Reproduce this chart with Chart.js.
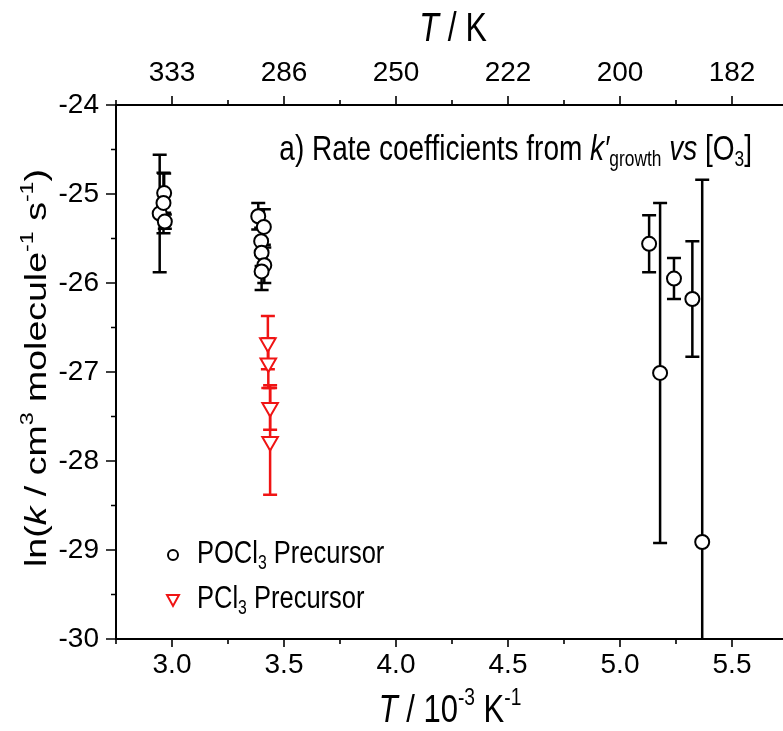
<!DOCTYPE html>
<html>
<head>
<meta charset="utf-8">
<script src="https://cdn.jsdelivr.net/npm/chart.js@4.4.1/dist/chart.umd.min.js"></script>
<style>
  html, body { margin: 0; padding: 0; background: #fff; overflow: hidden; }
  #wrap { width: 800px; height: 731px; }
</style>
</head>
<body>
<div id="wrap"><canvas id="chart" width="800" height="731"></canvas></div>
<script>
// axis ticks
const xTicks = [3.0, 3.5, 4.0, 4.5, 5.0, 5.5];
const xMinor = [2.75, 3.25, 3.75, 4.25, 4.75, 5.25, 5.75];
const topTickLabels = ["333", "286", "250", "222", "200", "182"];
const yTicks = [-24, -25, -26, -27, -28, -29, -30];
const yMinor = [-24.5, -25.5, -26.5, -27.5, -28.5, -29.5];

// POCl3 precursor: 1000/T, ln k, error
const poclX = [2.945, 2.965, 2.962, 2.968, 3.385, 3.41, 3.398, 3.400, 3.412, 3.400, 5.130, 5.179, 5.241, 5.323, 5.367];
const poclY = [-25.22, -24.99, -25.10, -25.31, -25.25, -25.37, -25.53, -25.66, -25.80, -25.87, -25.56, -27.01, -25.95, -26.18, -28.91];
const poclErr = [0.66, 0.22, 0.34, 0.08, 0.15, 0.20, 0.15, 0.15, 0.20, 0.21, 0.32, 1.91, 0.23, 0.65, 4.07];

// PCl3 precursor
const pclX = [3.428, 3.430, 3.438, 3.438];
const pclY = [-26.67, -26.90, -27.40, -27.78];
const pclErr = [0.30, 0.28, 0.25, 0.60];

const RED = "#f01414";
const FONT = "'Liberation Sans', Arial, sans-serif";
const STRETCH = 1.25;

function toPoints(xs, ys) {
  return xs.map((x, i) => ({ x: x, y: ys[i] }));
}

// draw a run of text pieces: {t, it, sub, sup}
function richWidth(ctx, parts, size) {
  let w = 0;
  parts.forEach(p => {
    const s = (p.sub || p.sup) ? size * 0.62 : size;
    ctx.font = (p.it ? "italic " : "") + s + "px " + FONT;
    w += ctx.measureText(p.t).width;
  });
  return w;
}

function drawRich(ctx, parts, size, x, y, align, angle, color) {
  ctx.save();
  ctx.translate(x, y);
  if (angle) ctx.rotate(angle);
  if (angle) ctx.scale(STRETCH, 1); else ctx.scale(1, STRETCH);
  const w = richWidth(ctx, parts, size);
  let cx = align === "center" ? -w / 2 : align === "right" ? -w : 0;
  ctx.fillStyle = color || "#000";
  ctx.textBaseline = "middle";
  ctx.textAlign = "left";
  parts.forEach(p => {
    const small = p.sub || p.sup;
    const s = small ? size * 0.62 : size;
    ctx.font = (p.it ? "italic " : "") + s + "px " + FONT;
    let dy = 0;
    if (p.sub) dy = size * 0.3;
    if (p.sup) dy = -size * 0.33;
    ctx.fillText(p.t, cx, dy);
    cx += ctx.measureText(p.t).width;
  });
  ctx.restore();
}

const errorBars = {
  id: "errorBars",
  beforeDatasetsDraw(chart) {
    const { ctx, chartArea, scales } = chart;
    ctx.save();
    ctx.beginPath();
    ctx.rect(chartArea.left, chartArea.top, chartArea.right - chartArea.left, chartArea.bottom - chartArea.top);
    ctx.clip();
    chart.data.datasets.forEach(ds => {
      ctx.strokeStyle = ds.borderColor;
      ctx.lineWidth = 2.5;
      ds.data.forEach((pt, i) => {
        const e = ds.err[i];
        const px = scales.x.getPixelForValue(pt.x);
        const y1 = scales.y.getPixelForValue(pt.y + e);
        const y2 = scales.y.getPixelForValue(pt.y - e);
        ctx.beginPath();
        ctx.moveTo(px, y1); ctx.lineTo(px, y2);
        ctx.moveTo(px - 7, y1); ctx.lineTo(px + 7, y1);
        ctx.moveTo(px - 7, y2); ctx.lineTo(px + 7, y2);
        ctx.stroke();
      });
    });
    ctx.restore();
  }
};

const frameAndText = {
  id: "frameAndText",
  afterDraw(chart) {
    const { ctx, chartArea: a, scales } = chart;
    ctx.save();
    ctx.strokeStyle = "#000";
    ctx.lineWidth = 2;
    ctx.strokeRect(a.left, a.top, a.right - a.left, a.bottom - a.top);

    ctx.beginPath();
    ctx.lineWidth = 1.6;
    xTicks.forEach(v => {
      const px = scales.x.getPixelForValue(v);
      ctx.moveTo(px, a.bottom); ctx.lineTo(px, a.bottom + 8);
      ctx.moveTo(px, a.top); ctx.lineTo(px, a.top - 9);
    });
    xMinor.forEach(v => {
      const px = scales.x.getPixelForValue(v);
      ctx.moveTo(px, a.bottom); ctx.lineTo(px, a.bottom + 5);
      ctx.moveTo(px, a.top); ctx.lineTo(px, a.top - 5);
    });
    yTicks.forEach(v => {
      const py = scales.y.getPixelForValue(v);
      ctx.moveTo(a.left, py); ctx.lineTo(a.left - 10, py);
    });
    yMinor.forEach(v => {
      const py = scales.y.getPixelForValue(v);
      ctx.moveTo(a.left, py); ctx.lineTo(a.left - 5, py);
    });
    ctx.stroke();
    ctx.restore();

    const cx = (a.left + a.right) / 2;
    drawRich(ctx, [{ t: "T", it: true }, { t: " / K" }], 32, cx + 1, 30, "center");
    drawRich(ctx, [{ t: "T", it: true }, { t: " / 10" }, { t: "-3", sup: true }, { t: " K" }, { t: "-1", sup: true }],
      31, cx - 2, 711, "center");
    drawRich(ctx, [{ t: "ln(" }, { t: "k", it: true }, { t: " / cm" }, { t: "3", sup: true }, { t: " molecule" },
      { t: "-1", sup: true }, { t: " s" }, { t: "-1", sup: true }, { t: ")" }],
      30, 38, (a.top + a.bottom) / 2 - 4, "center", -Math.PI / 2);
    drawRich(ctx, [{ t: "a) Rate coefficients from " }, { t: "k\u2032", it: true }, { t: "growth", sub: true },
      { t: " " }, { t: "vs", it: true }, { t: " [O" }, { t: "3", sub: true }, { t: "]" }],
      28, 752, 150, "right");

    // legend
    ctx.save();
    ctx.lineWidth = 2;
    ctx.strokeStyle = "#000";
    ctx.beginPath();
    ctx.arc(173, 555, 5, 0, Math.PI * 2);
    ctx.stroke();
    ctx.strokeStyle = RED;
    ctx.beginPath();
    ctx.moveTo(167, 595); ctx.lineTo(179, 595); ctx.lineTo(173, 606); ctx.closePath();
    ctx.stroke();
    ctx.restore();
    drawRich(ctx, [{ t: "POCl" }, { t: "3", sub: true }, { t: " Precursor" }], 25.5, 197, 554, "left");
    drawRich(ctx, [{ t: "PCl" }, { t: "3", sub: true }, { t: " Precursor" }], 25.5, 197, 599, "left");
  }
};

const tickFont = { family: FONT, size: 28 };

new Chart(document.getElementById("chart"), {
  type: "scatter",
  data: {
    datasets: [
      {
        label: "POCl3 Precursor",
        data: toPoints(poclX, poclY),
        err: poclErr,
        borderColor: "#000",
        backgroundColor: "#fff",
        pointStyle: "circle",
        pointRadius: 7,
        pointBorderWidth: 2
      },
      {
        label: "PCl3 Precursor",
        data: toPoints(pclX, pclY),
        err: pclErr,
        borderColor: RED,
        backgroundColor: "#fff",
        pointStyle: "triangle",
        rotation: 180,
        pointRadius: 9,
        pointBorderWidth: 2
      }
    ]
  },
  options: {
    responsive: false,
    animation: false,
    layout: { padding: { right: 12 } },
    plugins: { legend: { display: false }, tooltip: { enabled: false } },
    scales: {
      x: {
        type: "linear", position: "bottom", min: 2.75, max: 5.75,
        afterBuildTicks: s => { s.ticks = xTicks.map(v => ({ value: v })); },
        afterFit: s => { s.height = 92; },
        grid: { display: false, drawTicks: false },
        border: { display: false },
        ticks: { font: tickFont, color: "#000", padding: 9, maxRotation: 0, autoSkip: false,
          callback: v => v.toFixed(1) }
      },
      x2: {
        type: "linear", position: "top", min: 2.75, max: 5.75,
        afterBuildTicks: s => { s.ticks = xTicks.map(v => ({ value: v })); },
        afterFit: s => { s.height = 105; },
        grid: { display: false, drawTicks: false },
        border: { display: false },
        ticks: { font: tickFont, color: "#000", padding: 15, maxRotation: 0, autoSkip: false,
          callback: v => topTickLabels[xTicks.indexOf(v)] }
      },
      y: {
        type: "linear", position: "left", min: -30, max: -24,
        afterBuildTicks: s => { s.ticks = yTicks.map(v => ({ value: v })); },
        afterFit: s => { s.width = 116; },
        grid: { display: false, drawTicks: false },
        border: { display: false },
        ticks: { font: tickFont, color: "#000", padding: 17, autoSkip: false,
          callback: v => String(v) }
      }
    }
  },
  plugins: [errorBars, frameAndText]
});
</script>
</body>
</html>
